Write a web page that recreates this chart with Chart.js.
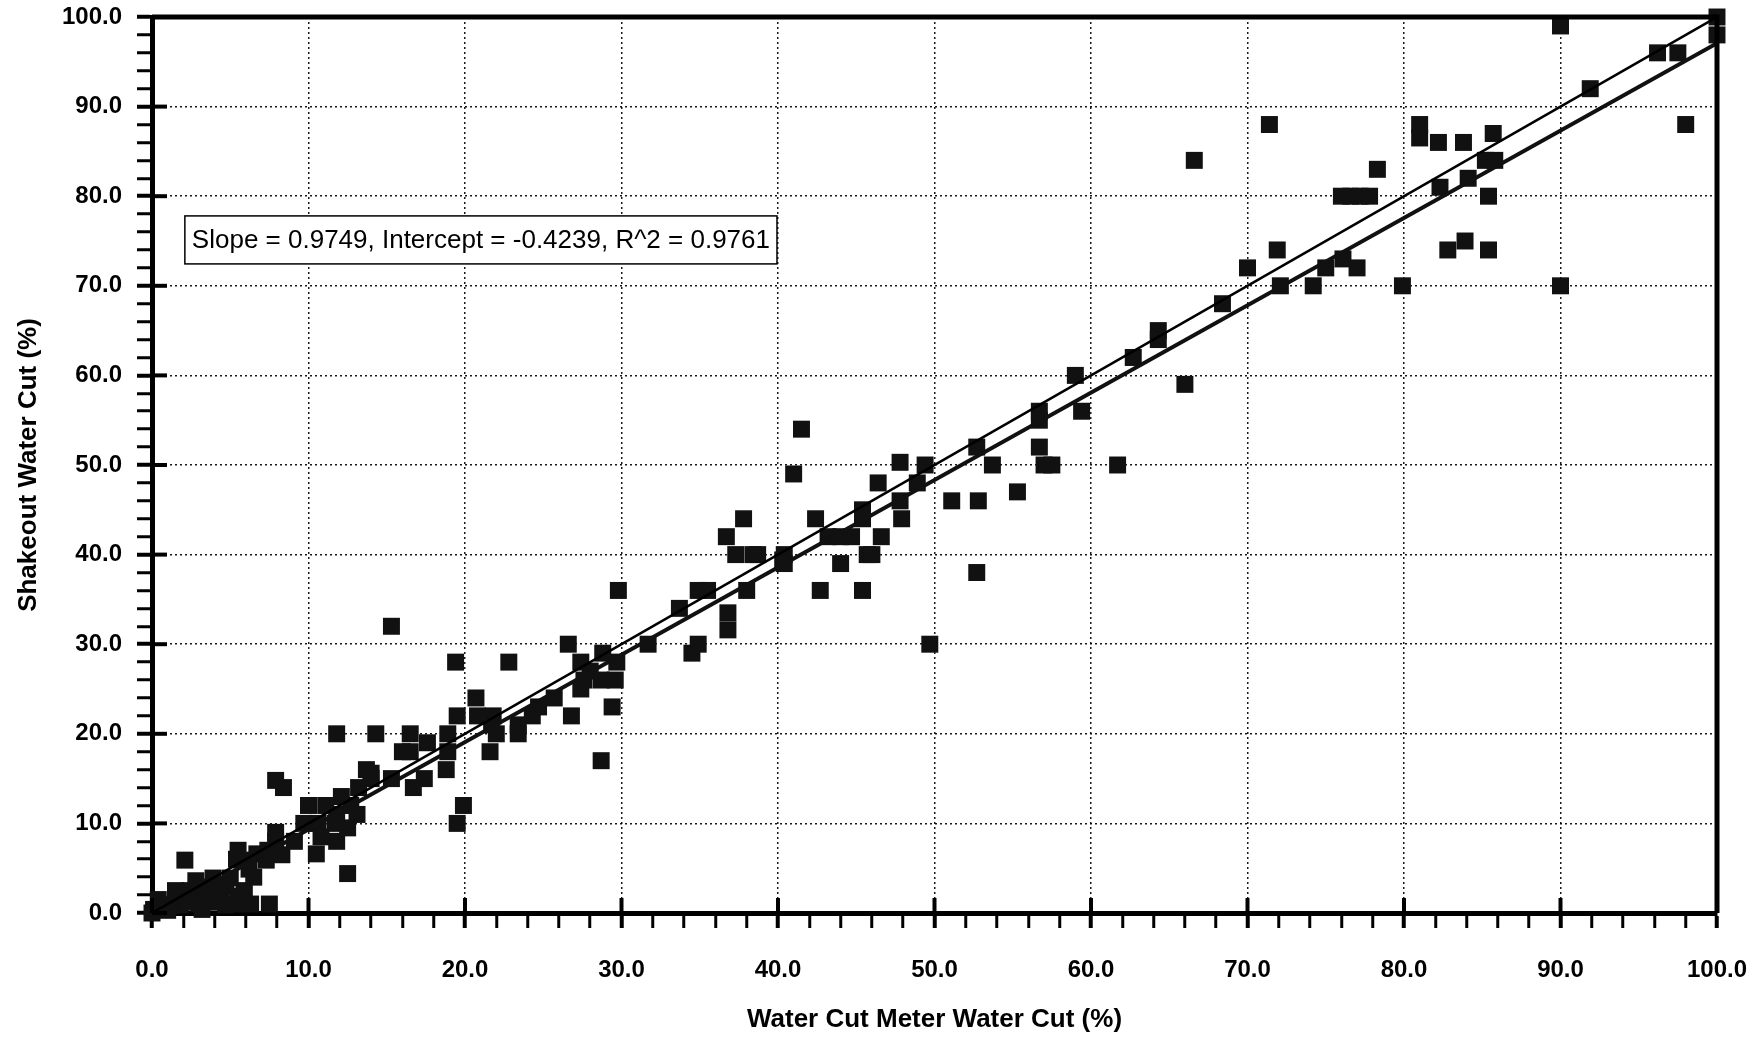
<!DOCTYPE html>
<html>
<head>
<meta charset="utf-8">
<script src="https://cdn.jsdelivr.net/npm/chart.js@4.4.0/dist/chart.umd.min.js"></script>
<style>
  html, body { margin: 0; padding: 0; background: #fff; }
  #wrap { width: 1758px; height: 1041px; position: relative; }
</style>
</head>
<body>
<div id="wrap"><canvas id="c" width="1758" height="1041"></canvas></div>
<script>
// ---- Data ----
const meterCut = [
  90, 100, 100, 96.2, 97.5, 91.9, 98, 90, 81, 81, 82.2, 83.8, 85.7, 78.3, 85.2, 85.8, 84.1, 82.3,
  76, 76.6, 77.2, 77.8, 85.4, 76.1, 75, 77, 74.2, 71.9, 72.1, 70, 79.9, 82.8, 83.9, 85.4, 71.4, 66.6,
  68.4, 64.3, 64.3, 62.7, 59, 59.4, 66, 56.7, 56.7, 56.7, 57, 57.5, 55.3, 53.7, 52.7, 52.8, 51.1, 52.7,
  61.7, 49.7, 49.4, 48.9, 47.8, 47.9, 46.4, 41.5, 41, 45.4, 45.4, 45.4, 44, 42.4, 42.7, 40.3, 38.7, 40.4,
  37.8, 36.7, 38.4, 38, 36.8, 36.8, 34.9, 35.5, 33.7, 34.9, 34.5, 31.7, 29.8, 29.7, 29.6, 29.4, 28.7, 28.8,
  28.7, 28, 27.6, 27.4, 27.4, 26.6, 26.8, 25.7, 24.7, 24.3, 23.4, 22.8, 23.4, 21.8, 21.7, 22, 21.6, 20.7,
  20.8, 19.5, 19.4, 19.5, 19.9, 18.9, 18.9, 18.8, 17.6, 17.4, 16.5, 16.5, 16.7, 16, 15.3, 15.3, 14.3, 13.7,
  14, 13.2, 12.7, 13.1, 12.5, 11.8, 12.1, 11.8, 11.7, 11.8, 11.1, 10.6, 10, 10.5, 9.7, 9.1, 8.4, 7.9,
  7.9, 7.9, 7.4, 7.3, 7.5, 6.7, 6.2, 5.7, 5.4, 5.5, 5.4, 5, 4.7, 4.4, 4.7, 3.9, 3.4, 2.9, 2.8, 2.4,
  2.1, 1.8, 1.8, 1.2, 0.7, 0.4, 0.1, 0, 45.7, 44, 44.7, 43.2, 46.6, 46, 40.4, 37.3, 47.8,
  1.5, 3, 3.8, 4.2, 5.9, 6.3, 2.2, 1, 3.2, 8.3, 6.5, 12.5, 10.8, 14, 5.5
];
const shakeoutCut = [
  99, 100, 98, 96, 96, 92, 88, 70, 88, 86.5, 86, 86, 87, 83, 84, 84, 82, 81,
  80, 80, 80, 80, 80, 73, 72, 72, 70, 74, 70, 72, 70, 74, 75, 74, 88, 84,
  68, 65, 64, 62, 60, 56, 59, 56, 55, 52, 50, 50, 47, 50, 52, 46, 46, 38,
  50, 30, 50, 48, 50.3, 44, 48, 54, 49, 45, 44, 36, 39, 44, 36, 39.4, 40, 40,
  44, 42, 40, 36, 33.5, 31.6, 36, 36, 34, 30, 29, 30, 36, 28, 26, 23, 17, 29,
  26, 27, 26, 25, 28, 30, 22, 24, 23, 22, 21, 28, 20, 22, 21, 20, 18, 24,
  22, 22, 28, 10, 12, 20, 18, 16, 19, 15, 20, 18, 14, 18, 32, 15, 20, 16,
  15, 14, 12, 11, 4.4, 20, 13, 11, 10, 8, 12, 10, 12, 6.6, 10, 8, 14, 14.8,
  9, 8, 7, 5.9, 1, 6.6, 4.9, 5.9, 6, 1.9, 1, 3.9, 2.9, 1.9, 0.9, 3.9, 2.9, 1.9, 3.6, 2.5,
  5.9, 1.9, 0.9, 0.9, 0.9, 1.5, 0.4, 0, 40, 42, 42, 42, 42, 40, 39, 40, 46,
  2.5, 1, 1.2, 3, 2.5, 1, 1.2, 0.3, 0.4, 6.5, 4, 9.5, 8.5, 15.6, 7
];
// Reference line (1:1) and least-squares fit (Slope 0.9749, Intercept -0.4239)
const lineX = [0, 100];
const identityY = [0, 100];
const fitY = [-0.4239, 97.0661];
const fitLabel = 'Slope = 0.9749, Intercept = -0.4239, R^2 = 0.9761';
const xTitle = 'Water Cut Meter Water Cut (%)';
const yTitle = 'Shakeout Water Cut (%)';

const points = meterCut.map((x, i) => ({ x: x, y: shakeoutCut[i] }));
const identity = lineX.map((x, i) => ({ x: x, y: identityY[i] }));
const fit = lineX.map((x, i) => ({ x: x, y: fitY[i] }));

const FONT = '"Liberation Sans", Arial, Helvetica, sans-serif';
const isMajor = v => Math.abs(Math.round(v) % 10) === 0 && Math.abs(v - Math.round(v)) < 1e-6;

const framePlugin = {
  id: 'frame',
  afterDraw(chart) {
    const { ctx, chartArea: a, scales } = chart;
    ctx.save();
    ctx.strokeStyle = '#000';
    ctx.lineWidth = 5;
    ctx.beginPath();
    ctx.moveTo(a.left, a.top);
    ctx.lineTo(a.right, a.top);
    ctx.lineTo(a.right, a.bottom);
    ctx.stroke();
    // inward stubs of major ticks
    ctx.lineWidth = 4;
    scales.x.ticks.forEach(t => {
      if (isMajor(t.value)) {
        const px = scales.x.getPixelForValue(t.value);
        ctx.beginPath(); ctx.moveTo(px, a.bottom); ctx.lineTo(px, a.bottom - 15); ctx.stroke();
      }
    });
    scales.y.ticks.forEach(t => {
      if (isMajor(t.value)) {
        const py = scales.y.getPixelForValue(t.value);
        ctx.beginPath(); ctx.moveTo(a.left, py); ctx.lineTo(a.left + 15, py); ctx.stroke();
      }
    });
    // regression text box
    const bx = scales.x.getPixelForValue(2.1);
    const by = scales.y.getPixelForValue(77.8);
    ctx.font = '26px ' + FONT;
    const w = ctx.measureText(fitLabel).width + 14;
    const h = 48;
    ctx.fillStyle = '#fff';
    ctx.fillRect(bx, by, w, h);
    ctx.lineWidth = 1.5;
    ctx.strokeRect(bx, by, w, h);
    ctx.fillStyle = '#000';
    ctx.textBaseline = 'middle';
    ctx.textAlign = 'left';
    ctx.fillText(fitLabel, bx + 7, by + h / 2 + 1);
    ctx.restore();
  }
};

const axisCommon = (title, isX) => ({
  type: 'linear',
  min: 0,
  max: 100,
  ticks: {
    stepSize: 2,
    autoSkip: false,
    maxRotation: 0,
    minRotation: 0,
    padding: isX ? 28 : 15,
    color: '#000',
    font: { family: FONT, size: 24, weight: 'bold' },
    callback: v => isMajor(v) ? Number(v).toFixed(1) : ''
  },
  grid: {
    color: ctx => (ctx.tick && isMajor(ctx.tick.value)) ? 'rgba(0,0,0,0.9)' : 'rgba(0,0,0,0)',
    lineWidth: 1.5,
    drawTicks: true,
    tickLength: 15,
    tickColor: '#000',
    tickWidth: ctx => (ctx.tick && isMajor(ctx.tick.value)) ? 4 : 3
  },
  border: { display: true, color: '#000', width: 5, dash: [2, 3] },
  title: {
    display: true,
    text: title,
    color: '#000',
    font: { family: FONT, size: 26, weight: 'bold' },
    padding: isX ? { top: 0, bottom: 6 } : { top: 13, bottom: 0 }
  },
  afterFit: s => {
    if (isX) { s.height = 128; } else { s.width = 152; }
    s.paddingTop = 0; s.paddingBottom = 0; s.paddingLeft = 0; s.paddingRight = 0;
  }
});

new Chart(document.getElementById('c'), {
  type: 'scatter',
  data: {
    datasets: [
      {
        label: 'y = x',
        data: identity,
        showLine: true,
        borderColor: '#000',
        borderWidth: 2.5,
        pointRadius: 0,
        fill: false
      },
      {
        label: 'fit',
        data: fit,
        showLine: true,
        borderColor: '#111',
        borderWidth: 4,
        pointRadius: 0,
        fill: false
      },
      {
        label: 'data',
        data: points,
        pointStyle: 'rect',
        pointRadius: 12,
        pointHoverRadius: 12,
        backgroundColor: '#111',
        borderColor: '#111',
        borderWidth: 0,
        clip: false
      }
    ]
  },
  options: {
    responsive: false,
    animation: false,
    devicePixelRatio: 1,
    layout: { padding: { top: 17, right: 41, left: 0, bottom: 0 } },
    plugins: {
      legend: { display: false },
      tooltip: { enabled: false },
      title: { display: false }
    },
    scales: {
      x: axisCommon(xTitle, true),
      y: axisCommon(yTitle, false)
    }
  },
  plugins: [framePlugin]
});
</script>
</body>
</html>
